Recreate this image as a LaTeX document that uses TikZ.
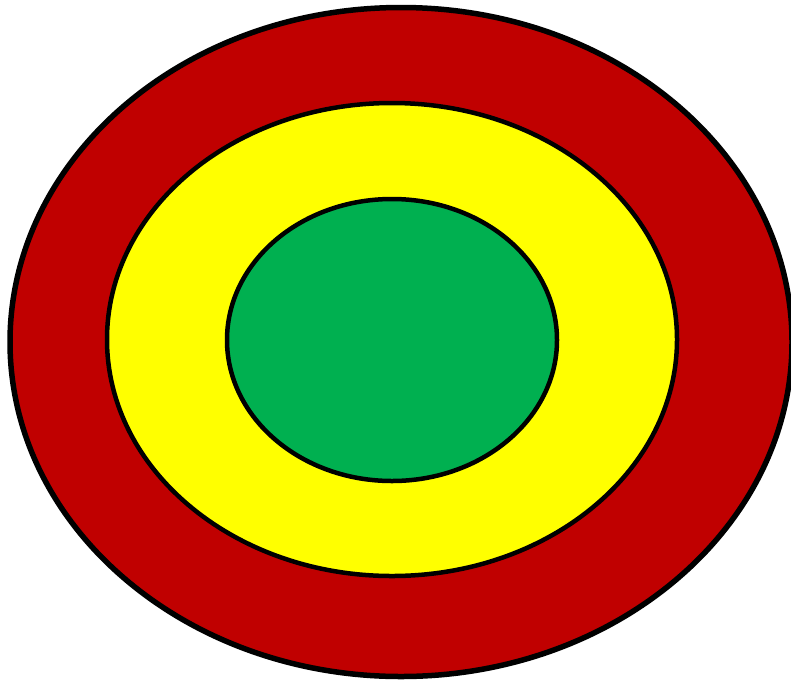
\documentclass[tikz,border=0pt]{standalone}
\begin{document}
\begin{tikzpicture}[x=1pt,y=-1pt,
  ring/.style={draw=black,line width=4.5pt}]
\useasboundingbox (0,0) rectangle (791,681);
\fill[white] (0,0) rectangle (791,681);
\draw[ring,fill={rgb,255:red,192;green,0;blue,0},line width=5.5pt] (401,342) ellipse [x radius=391, y radius=334.5];
\draw[ring,fill={rgb,255:red,255;green,255;blue,0}] (392,339.5) ellipse [x radius=285, y radius=236.5];
\draw[ring,fill={rgb,255:red,0;green,176;blue,80}] (392,340) ellipse [x radius=165, y radius=141];
\end{tikzpicture}
\end{document}
